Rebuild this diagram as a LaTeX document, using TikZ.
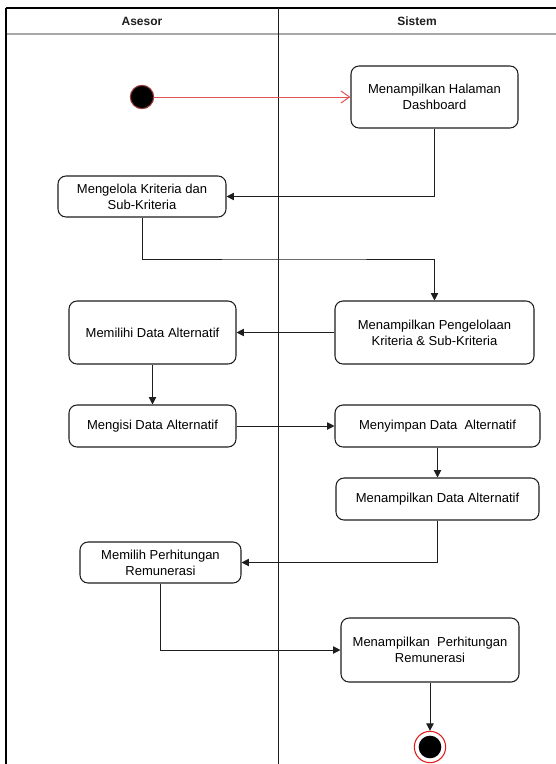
\documentclass[tikz,border=0pt]{standalone}
\usepackage{fontspec}
\setmainfont{Liberation Sans}
\usetikzlibrary{arrows.meta}
\definecolor{ink}{HTML}{1E1E1E}
\definecolor{lanegray}{HTML}{A8A8A8}
\definecolor{startred}{HTML}{E05555}
\definecolor{endred}{HTML}{E01B1B}
\tikzset{
  act/.style={draw=ink, line width=0.8pt, rounded corners=6pt, fill=white,
    inner sep=0pt, align=center, text=black,
    font=\fontsize{9.75}{11.8}\selectfont},
  flow/.style={draw=ink, line width=0.75pt, -{Triangle[length=5.5pt,width=5.5pt]}},
  startflow/.style={draw=startred, line width=0.75pt, -{Straight Barb[length=6.5pt,width=9pt]}},
  lanehead/.style={font=\bfseries\fontsize{9}{11}\selectfont, text=ink},
}
\begin{document}
\begin{tikzpicture}[x=0.75pt, y=-0.75pt]
\useasboundingbox (0,0) rectangle (556,764);
\fill[white] (0,0) rectangle (556,764);

% swimlane frame
\draw[black, line width=1pt] (6,8) -- (556,8);
\draw[lanegray, line width=1pt] (6,34) -- (556,34);
\draw[black, line width=1.1pt] (6,8) -- (6,764);
\draw[ink, line width=0.6pt] (278,8) -- (278,764);
\node[lanehead] (laneA) at (142,21) {Asesor};
\node[lanehead] (laneB) at (417,21) {Sistem};

% start / end
\node[circle, fill=black, draw=startred!70!black, line width=0.8pt,
      minimum size=17.5pt, inner sep=0pt] (start) at (142,97) {};
\node[circle, draw=endred, line width=0.8pt, fill=white,
      minimum size=23.5pt, inner sep=0pt] (stop) at (430,747) {};
\node[circle, fill=black, minimum size=17pt, inner sep=0pt] (stopdot) at (430,747) {};

% activities
\node[act, minimum width=125.25pt, minimum height=46.5pt] (N1) at (434.5,97)
  {Menampilkan Halaman\\Dashboard};
\node[act, minimum width=126pt, minimum height=30.75pt] (N2) at (142,196.5)
  {Mengelola Kriteria dan\\Sub-Kriteria};
\node[act, minimum width=149.25pt, minimum height=47.25pt] (N3) at (434.5,332.5)
  {Menampilkan Pengelolaan\\Kriteria \& Sub-Kriteria};
\node[act, minimum width=125.25pt, minimum height=47.25pt] (N4) at (152.5,332.5)
  {Memilihi Data Alternatif};
\node[act, minimum width=125.25pt, minimum height=31.5pt] (N5) at (152.5,426)
  {Mengisi Data Alternatif};
\node[act, minimum width=153.75pt, minimum height=31.5pt] (N6) at (437.5,426)
  {Menyimpan Data\ \ Alternatif};
\node[act, minimum width=152.25pt, minimum height=31.5pt] (N7) at (437.5,499)
  {Menampilkan Data Alternatif};
\node[act, minimum width=120.75pt, minimum height=30.75pt] (N8) at (160.5,562.5)
  {Memilih Perhitungan\\Remunerasi};
\node[act, minimum width=133.5pt, minimum height=48pt] (N9) at (430,650)
  {Menampilkan\ \ Perhitungan\\Remunerasi};

\coordinate (k1) at (300,259);

% control flow
\draw[startflow] (start) -- (N1.west);
\draw[flow] (N1.south) |- (N2.east);
\draw[flow] (N2.south) |- (k1) -| (N3.north);
\draw[flow] (N3.west) -- (N4.east);
\draw[flow] (N4.south) -- (N5.north);
\draw[flow] (N5.east) -- (N6.west);
\draw[flow] (N6.south) -- (N7.north);
\draw[flow] (N7.south) |- (N8.east);
\draw[flow] (N8.south) |- (N9.west);
\draw[flow] (N9.south) -- (stop.north);
\end{tikzpicture}
\end{document}
